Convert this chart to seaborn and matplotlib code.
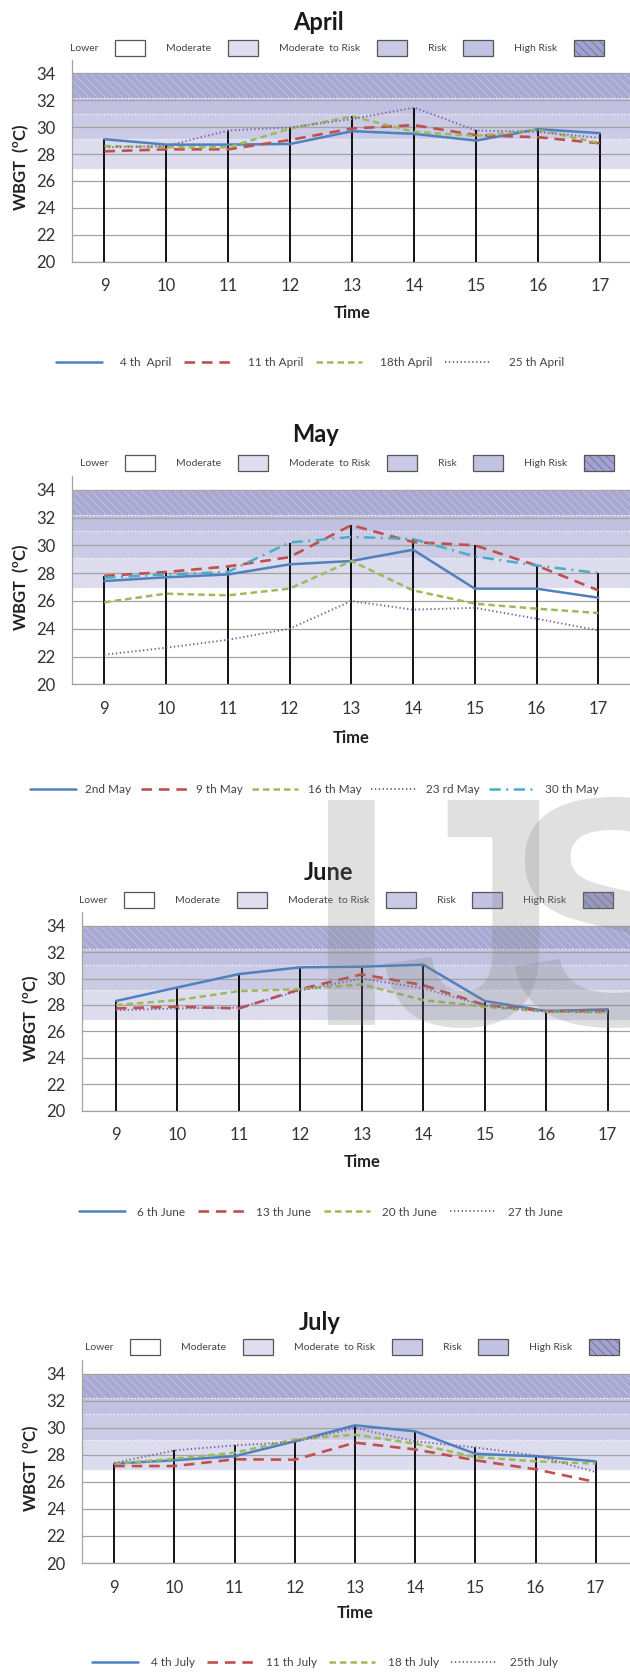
import numpy as np
import pandas as pd
import matplotlib
matplotlib.use("Agg")
import matplotlib.pyplot as plt
import seaborn as sns
from matplotlib.patches import Patch
from matplotlib.lines import Line2D

# ---------------- data ----------------
hours = [9, 10, 11, 12, 13, 14, 15, 16, 17]

april_labels = ["4 th  April", "11 th April", "18th April", "25 th April"]
april_4 = [29.1, 28.7, 28.7, 28.75, 29.7, 29.5, 29.0, 29.85, 29.55]
april_11 = [28.2, 28.35, 28.35, 29.05, 29.9, 30.15, 29.4, 29.25, 28.8]
april_18 = [28.6, 28.5, 28.5, 29.9, 30.8, 29.65, 29.35, 29.8, 28.8]
april_25 = [28.5, 28.6, 29.75, 29.98, 30.6, 31.45, 29.75, 29.65, 29.2]

may_labels = ["2nd May", "9 th May", "16 th May", "23 rd May", "30 th May"]
may_2 = [27.43, 27.7, 27.9, 28.63, 28.87, 29.68, 26.88, 26.88, 26.23]
may_9 = [27.8, 28.08, 28.48, 29.15, 31.45, 30.23, 30.0, 28.55, 26.76]
may_16 = [25.9, 26.52, 26.4, 26.88, 28.87, 26.76, 25.8, 25.44, 25.13]
may_23 = [22.13, 22.63, 23.2, 24.0, 25.99, 25.37, 25.5, 24.72, 23.88]
may_30 = [27.67, 27.9, 28.08, 30.2, 30.6, 30.45, 29.2, 28.55, 28.0]

june_labels = ["6 th June", "13 th June", "20 th June", "27 th June"]
june_6 = [28.3, 29.33, 30.34, 30.85, 30.9, 31.05, 28.3, 27.54, 27.67]
june_13 = [27.74, 27.87, 27.74, 29.2, 30.32, 29.5, 28.0, 27.54, 27.54]
june_20 = [28.0, 28.37, 29.05, 29.2, 29.56, 28.37, 27.87, 27.5, 27.44]
june_27 = [27.6, 27.74, 27.8, 29.1, 30.0, 29.26, 27.95, 27.5, 27.5]

july_labels = ["4 th July", "11 th July", "18 th July", "25th July"]
july_4 = [27.35, 27.6, 27.9, 29.0, 30.18, 29.74, 28.08, 27.89, 27.52]
july_11 = [27.17, 27.17, 27.67, 27.64, 28.9, 28.4, 27.6, 26.93, 25.99]
july_18 = [27.35, 27.71, 28.16, 29.14, 29.49, 28.82, 27.84, 27.52, 27.35]
july_25 = [27.4, 28.33, 28.7, 28.95, 29.98, 29.0, 28.55, 27.96, 26.73]

zone_names = ["Lower", "Moderate", "Moderate  to Risk", "Risk", "High Risk"]
zone_bounds = [20.0, 26.9, 29.1, 31.0, 32.2, 34.0]
y_ticks = [20, 22, 24, 26, 28, 30, 32, 34]

# ---------------- styles ----------------
zone_colors = ["#FFFFFF", "#DCDCEE", "#CBCBE5", "#C0C0E0", "#A8A8D3"]
zone_legend_colors = ["#FFFFFF", "#DEDEF0", "#CACAE6", "#C2C2E2", "#A2A2D2"]
series_colors = ["#4F81BD", "#C0504D", "#9BBB59", "#8064A2", "#4BACC6"]
series_dashes = ["", (4.0, 2.6), (2.6, 1.6), (0.7, 1.3), (4.5, 2.2, 0.8, 2.2)]
series_widths = [1.8, 1.9, 1.8, 1.4, 1.8]

months = [
    dict(name="April", labels=april_labels, series=[april_4, april_11, april_18, april_25],
         title=(318, 22), zleg=(337, 48), y34=73.3, y20=261.7, left=72.3, x9=104.5, x17=600.0,
         time=313, ylab=23, bleg=(310, 363), bl=(3.9, 1.5, 1.1)),
    dict(name="May", labels=may_labels, series=[may_2, may_9, may_16, may_23, may_30],
         title=(316, 435), zleg=(347, 463), y34=489.7, y20=684.3, left=72.3, x9=104.3, x17=598.3,
         time=738, ylab=23, bleg=(314, 790), bl=(3.9, 0.8, 0.8)),
    dict(name="June", labels=june_labels, series=[june_6, june_13, june_20, june_27],
         title=(328, 873), zleg=(346, 900), y34=925.7, y20=1110.7, left=82.4, x9=116.0, x17=607.7,
         time=1162, ylab=33, bleg=(321, 1212), bl=(3.9, 1.0, 1.1)),
    dict(name="July", labels=july_labels, series=[july_4, july_11, july_18, july_25],
         title=(320, 1322), zleg=(352, 1347), y34=1373.7, y20=1563.0, left=82.4, x9=114.3, x17=595.7,
         time=1613, ylab=33, bleg=(325, 1663), bl=(3.9, 1.1, 1.0)),
]

W, H = 630, 1673

sns.set_theme(style="white")
plt.rcParams["font.family"] = ["Lato", "DejaVu Sans"]
plt.rcParams["mathtext.fontset"] = "custom"
plt.rcParams["mathtext.rm"] = "Lato"
plt.rcParams["mathtext.bf"] = "Lato:bold"
plt.rcParams["hatch.linewidth"] = 0.35

fig = plt.figure(figsize=(W / 100, H / 100), dpi=100)
fig.patch.set_facecolor("white")

for m in months:
    per_y = (m["y20"] - m["y34"]) / 14.0
    top_px = m["y34"] - per_y  # ylim top = 35
    per_x = (m["x17"] - m["x9"]) / 8.0
    right_px = 631.0
    xlo = 9 - (m["x9"] - m["left"]) / per_x
    xhi = 17 + (right_px - m["x17"]) / per_x
    ax = fig.add_axes([m["left"] / W, 1 - m["y20"] / H,
                       (right_px - m["left"]) / W, (m["y20"] - top_px) / H])
    ax.set_xlim(xlo, xhi)
    ax.set_ylim(20, 35)

    # risk bands
    for i in range(1, 5):
        lo, hi = zone_bounds[i], zone_bounds[i + 1]
        ax.axhspan(lo, hi, facecolor=zone_colors[i], edgecolor="#D6D6EC",
                   hatch="\\\\\\\\" if i == 4 else None, linewidth=0, zorder=0)
        ax.axhline(lo, color="#F2F2FA", lw=1.0, ls=(0, (1, 1.5)), zorder=0.6)
    ax.axhline(zone_bounds[5], color="#E0E0F0", lw=1.0, ls=(0, (1, 1.5)), zorder=0.6)

    # data
    n = len(m["series"])
    rows = []
    for lab, vals in zip(m["labels"], m["series"]):
        for h, v in zip(hours, vals):
            rows.append(dict(Hour=h, WBGT=v, Date=lab))
    df = pd.DataFrame(rows)
    pal = dict(zip(m["labels"], series_colors[:n]))
    dsh = dict(zip(m["labels"], series_dashes[:n]))

    # drop lines from the highest reading
    maxvals = df.groupby("Hour")["WBGT"].max().reindex(hours).values
    ax.vlines(hours, 20, maxvals, colors="black", lw=1.3, zorder=2)

    for lab, lw in zip(m["labels"], series_widths[:n]):
        sns.lineplot(data=df[df["Date"] == lab], x="Hour", y="WBGT", color=pal[lab],
                     dashes=False, ax=ax, legend=False, lw=lw, zorder=3)
        line = ax.get_lines()[-1]
        if dsh[lab]:
            line.set_dashes(dsh[lab])

    # axes styling
    ax.set_yticks(y_ticks)
    ax.set_xticks(hours)
    ax.yaxis.grid(True, color="#A3A3A3", lw=0.9)
    ax.xaxis.grid(False)
    ax.set_axisbelow("line")
    for s in ["top", "right"]:
        ax.spines[s].set_visible(False)
    for s in ["left", "bottom"]:
        ax.spines[s].set_color("#A3A3A3")
        ax.spines[s].set_linewidth(0.9)
    ax.tick_params(axis="y", length=4.5, width=0.9, color="#A3A3A3", direction="out",
                   pad=7.5, labelsize=12, labelcolor="#333333")
    ax.tick_params(axis="x", length=0, pad=12, labelsize=12, labelcolor="#333333")

    w_px = right_px - m["left"]
    h_px = m["y20"] - top_px
    ax.set_xlabel("Time", fontsize=12, fontweight="bold", color="#222222")
    ax.xaxis.set_label_coords(((m["x9"] + m["x17"]) / 2 - m["left"]) / w_px,
                              -(m["time"] - 8 - m["y20"]) / h_px)
    ax.set_ylabel(r"WBGT  ($^{\mathbf{o}}$C)", fontsize=12, fontweight="bold", color="#222222")
    ax.yaxis.set_label_coords((m["ylab"] + 8 - m["left"]) / w_px, (27 - 20) / 15)

    fig.text(m["title"][0] / W, 1 - m["title"][1] / H, m["name"], ha="center", va="center",
             fontsize=17, fontweight="bold", color="#1a1a1a")

    # zone legend
    zh = []
    for i, nm in enumerate(zone_names):
        zh.append(Patch(facecolor=zone_legend_colors[i], edgecolor="#555555", lw=0.9,
                        hatch="\\\\\\\\" if i == 4 else None))
    leg1 = ax.legend(zh, zone_names, ncol=5, loc="center",
                     bbox_to_anchor=(m["zleg"][0] / W, 1 - m["zleg"][1] / H),
                     bbox_transform=fig.transFigure, frameon=False, markerfirst=False,
                     fontsize=7.5, handlelength=2.9, handleheight=1.9, handletextpad=1.6,
                     columnspacing=2.0, borderpad=0, borderaxespad=0)
    for t in leg1.get_texts():
        t.set_color("#444444")
    ax.add_artist(leg1)

    # series legend
    sh = []
    for k in range(n):
        ln = Line2D([0], [0], color=series_colors[k], lw=series_widths[k])
        if series_dashes[k]:
            ln.set_dashes(series_dashes[k])
        sh.append(ln)
    hl, tp, cs = m["bl"]
    leg2 = ax.legend(sh, m["labels"], ncol=n, loc="center",
                     bbox_to_anchor=(m["bleg"][0] / W, 1 - m["bleg"][1] / H),
                     bbox_transform=fig.transFigure, frameon=False, fontsize=8.5,
                     handlelength=hl, handletextpad=tp, columnspacing=cs,
                     borderpad=0, borderaxespad=0)
    for t in leg2.get_texts():
        t.set_color("#444444")

# watermark
for ch, xpx in zip(["I", "J", "S"], [305, 380, 505]):
    fig.text(xpx / W, 1 - 1025 / H, ch, fontsize=235, family="Liberation Sans",
             fontweight="bold", color="#808080", alpha=0.24, ha="left", va="baseline", zorder=20)

fig.savefig("out.png", dpi=100, facecolor="white")
